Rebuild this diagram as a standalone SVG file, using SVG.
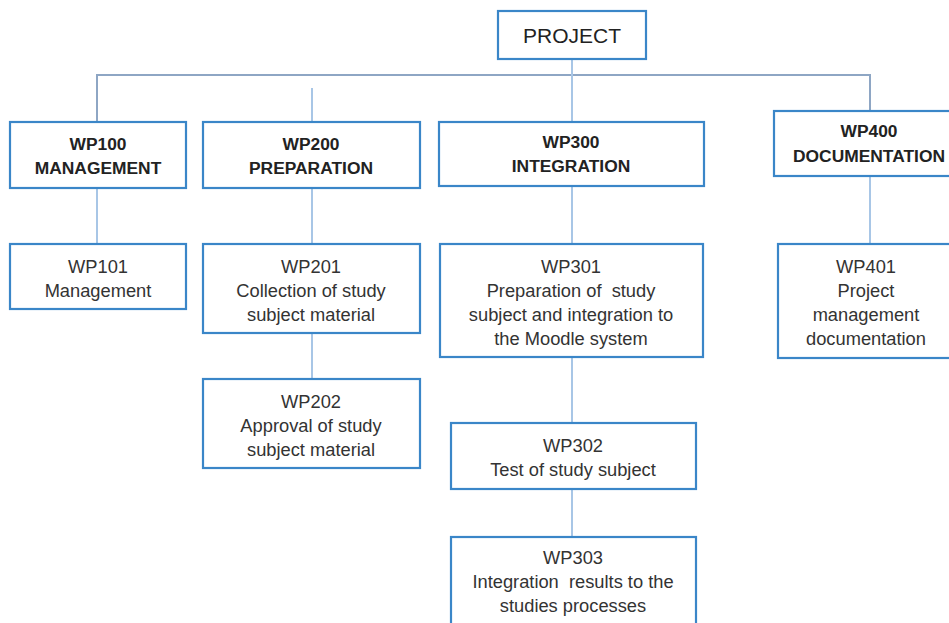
<svg xmlns="http://www.w3.org/2000/svg" width="949" height="623" viewBox="0 0 949 623">
<style>
.box{fill:#fff;stroke:#3a86c8;stroke-width:2.2}
.t{font-family:"Liberation Sans",Arial,sans-serif;font-size:18.3px;fill:#333;text-anchor:middle;white-space:pre}
.b{font-family:"Liberation Sans",Arial,sans-serif;font-size:17.4px;font-weight:bold;fill:#222;text-anchor:middle}
.p{font-family:"Liberation Sans",Arial,sans-serif;font-size:21px;fill:#222;text-anchor:middle}
.c{stroke:#a8c6e6;stroke-width:2;fill:none}
.h{stroke:#8ea6c4;stroke-width:2;fill:none}
</style>
<g id="connectors">
<path class="h" d="M97,122 V75 H870 V111"/>
<path class="c" d="M572,59 V122"/>
<path class="c" d="M312,88 V122"/>
<path class="c" d="M97,188 V244"/>
<path class="c" d="M312,188 V244"/>
<path class="c" d="M312,333 V379"/>
<path class="c" d="M572,186 V244"/>
<path class="c" d="M572,357 V423"/>
<path class="c" d="M572,489 V537"/>
<path class="c" d="M870,176 V244"/>
</g>
<g id="project"><rect class="box" x="498" y="11" width="148" height="48"/><text class="p" x="572" y="43">PROJECT</text></g>
<g id="wp100"><rect class="box" x="10" y="122" width="176" height="66"/><text class="b" x="98" y="150">WP100</text><text class="b" x="98" y="174">MANAGEMENT</text></g>
<g id="wp200"><rect class="box" x="203" y="122" width="217" height="66"/><text class="b" x="311" y="150">WP200</text><text class="b" x="311" y="174">PREPARATION</text></g>
<g id="wp300"><rect class="box" x="439" y="122" width="265" height="64"/><text class="b" x="571" y="148">WP300</text><text class="b" x="571" y="172">INTEGRATION</text></g>
<g id="wp400"><rect class="box" x="774" y="111" width="180" height="65"/><text class="b" x="869" y="137">WP400</text><text class="b" x="869" y="162">DOCUMENTATION</text></g>
<g id="wp101"><rect class="box" x="10" y="244" width="176" height="65"/><text class="t" x="98" y="273">WP101</text><text class="t" x="98" y="297">Management</text></g>
<g id="wp201"><rect class="box" x="203" y="244" width="217" height="89"/><text class="t" x="311" y="273">WP201</text><text class="t" x="311" y="297">Collection of study</text><text class="t" x="311" y="321">subject material</text></g>
<g id="wp202"><rect class="box" x="203" y="379" width="217" height="89"/><text class="t" x="311" y="408">WP202</text><text class="t" x="311" y="432">Approval of study</text><text class="t" x="311" y="456">subject material</text></g>
<g id="wp301"><rect class="box" x="440" y="244" width="263" height="113"/><text class="t" x="571" y="273">WP301</text><text class="t" x="571" y="297">Preparation of  study</text><text class="t" x="571" y="321">subject and integration to</text><text class="t" x="571" y="345">the Moodle system</text></g>
<g id="wp302"><rect class="box" x="451" y="423" width="245" height="66"/><text class="t" x="573" y="452">WP302</text><text class="t" x="573" y="476">Test of study subject</text></g>
<g id="wp303"><rect class="box" x="451" y="537" width="245" height="100"/><text class="t" x="573" y="564">WP303</text><text class="t" x="573" y="588">Integration  results to the</text><text class="t" x="573" y="612">studies processes</text></g>
<g id="wp401"><rect class="box" x="778" y="244" width="180" height="114"/><text class="t" x="866" y="273">WP401</text><text class="t" x="866" y="297">Project</text><text class="t" x="866" y="321">management</text><text class="t" x="866" y="345">documentation</text></g>
</svg>
